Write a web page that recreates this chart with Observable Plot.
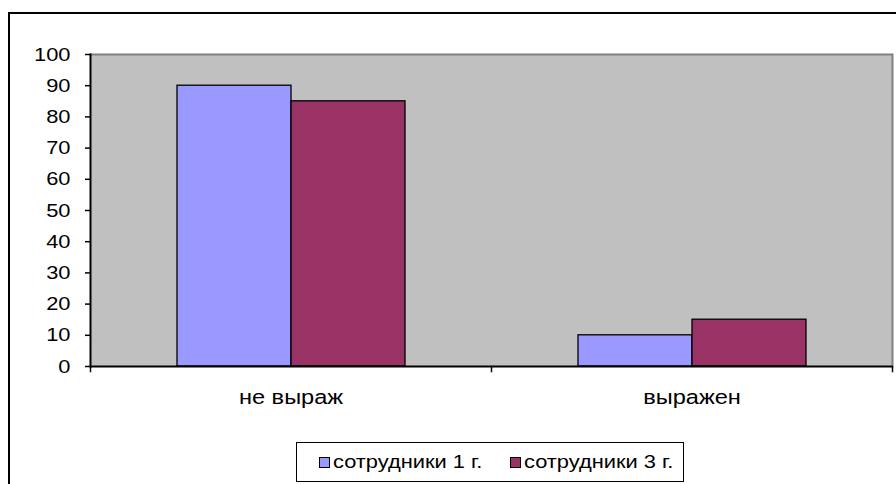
<!DOCTYPE html>
<html><head><meta charset="utf-8">
<script src="https://cdn.jsdelivr.net/npm/d3@7"></script>
<script src="https://cdn.jsdelivr.net/npm/@observablehq/plot@0.6"></script>
<style>
body{margin:0;background:#fff;font-family:"Liberation Sans",Arial,sans-serif;}
#wrap{position:relative;width:896px;height:484px;overflow:hidden;background:#fff;}
#frame{position:absolute;left:8px;top:12px;width:1000px;height:1000px;border-left:2px solid #000;border-top:2px solid #000;}
#chart{position:absolute;left:0;top:0;}
#legend{position:absolute;left:296px;top:442px;width:386px;height:38px;border:1.5px solid #000;background:#fff;font-size:19px;}
#legend .item{position:absolute;top:0;height:38px;display:flex;align-items:center;white-space:nowrap;}
#legend .sw{width:9px;height:9px;border:1px solid #000;margin-right:3px;flex:none;}
#legend .lab{display:inline-block;transform:scaleX(1.15);transform-origin:left center;}
</style></head><body>
<div id="wrap"><div id="frame"></div><div id="chart"></div><div id="legend"></div></div>
<script>
const categories = ["не выраж", "выражен"];
const seriesNames = ["сотрудники 1 г.", "сотрудники 3 г."];
const values1 = [90, 10];
const values3 = [85, 15];
const seriesColors = ["#9999ff", "#993366"];
const yTicks = [0, 10, 20, 30, 40, 50, 60, 70, 80, 90, 100];

const data = categories.flatMap((c, i) => [
  {category: c, series: seriesNames[0], value: values1[i]},
  {category: c, series: seriesNames[1], value: values3[i]}
]);
const first = categories[0], last = categories[categories.length - 1];

const plot = Plot.plot({
  width: 896, height: 430,
  marginTop: 54, marginBottom: 64, marginLeft: 90, marginRight: 4,
  style: {fontFamily: "'Liberation Sans', Arial, sans-serif", fontSize: "19px", color: "#000", background: "transparent"},
  fx: {domain: categories, padding: 0, label: null},
  x: {domain: seriesNames, paddingInner: 0, paddingOuter: 0.75, axis: null},
  y: {domain: [0, 100], label: null},
  color: {domain: seriesNames, range: seriesColors},
  marks: [
    Plot.frame({fill: "#c0c0c0", shapeRendering: "crispEdges"}),
    Plot.ruleY([100], {stroke: "#808080", strokeWidth: 2}),
    Plot.frame({anchor: "right", stroke: "#808080", strokeWidth: 2, fx: () => last}),
    Plot.barY(data, {fx: "category", x: "series", y: "value", fill: "series", stroke: "#000", strokeWidth: 1.3}),
    Plot.axisY({ticks: yTicks, tickSize: 5, tickPadding: 15, fontSize: 19, stroke: "#000", strokeWidth: 1.5, label: null}),
    Plot.axisFx({anchor: "bottom", tickSize: 0, tickPadding: 23, fontSize: 20.5, label: null}),
    Plot.ruleY([0], {stroke: "#000", strokeWidth: 2}),
    Plot.frame({anchor: "left", stroke: "#000", strokeWidth: 2, fx: () => first}),
    Plot.frame({anchor: "left", stroke: "#000", strokeWidth: 1.5, insetTop: 312, insetBottom: -5}),
    Plot.frame({anchor: "right", stroke: "#000", strokeWidth: 1.5, insetTop: 312, insetBottom: -5, fx: () => last})
  ]
});
document.getElementById("chart").appendChild(plot);

// the reference's text is horizontally stretched
d3.select(plot).selectAll("text").each(function() {
  const len = this.getComputedTextLength();
  if (len > 0) {
    this.setAttribute("textLength", len * 1.15);
    this.setAttribute("lengthAdjust", "spacingAndGlyphs");
  }
});

const legend = d3.select("#legend");
const itemLeft = [22, 213];
seriesNames.forEach((name, i) => {
  const item = legend.append("div").attr("class", "item").style("left", itemLeft[i] + "px");
  item.append("div").attr("class", "sw").style("background", seriesColors[i]);
  item.append("span").attr("class", "lab").text(name);
});
</script>
</body></html>
